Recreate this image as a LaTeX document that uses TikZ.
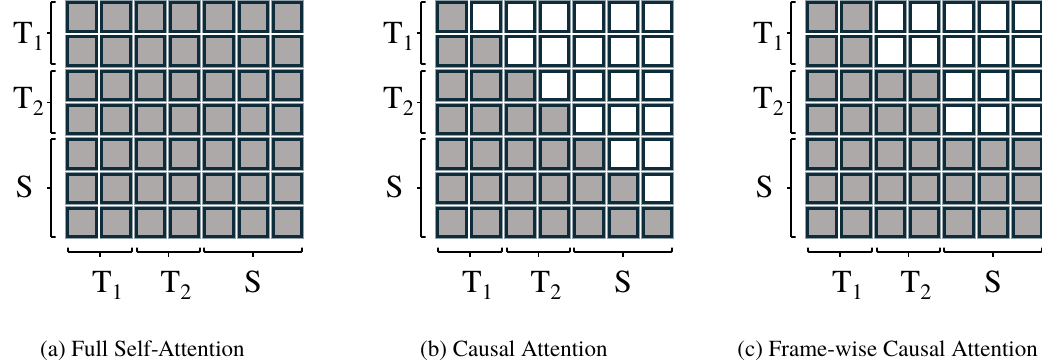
\documentclass[tikz,border=0pt]{standalone}
\usepackage{fontspec}
\setmainfont{TeX Gyre Termes}
\definecolor{cellgray}{RGB}{173,169,169}
\definecolor{celledge}{RGB}{14,44,58}
\definecolor{cellhalo}{RGB}{150,162,170}
\tikzset{
  cell/.style={draw=celledge, line width=3pt, minimum size=28.5pt, inner sep=0pt, outer sep=0pt,
               preaction={draw=cellhalo, line width=4.6pt}},
  bracket/.style={draw=black, line width=1.8pt, rounded corners=1pt},
  axislabel/.style={font=\rmfamily\fontsize{32}{36}\selectfont, inner sep=0pt},
  caption/.style={font=\rmfamily\fontsize{23}{27}\selectfont, inner sep=0pt},
}
% token label with a lowered index
\newcommand\tok[1]{T\raisebox{-7pt}{\fontsize{22}{22}\selectfont #1}}
% vertical bracket: x, top, bottom, tip y
\newcommand\sidebrace[4]{%
  \draw[bracket] (#1+4.5,#2) -- (#1,#2) -- (#1,#3) -- (#1+4.5,#3);
  \draw[bracket] (#1,#4) -- (#1-4.5,#4);}
% horizontal bracket: left, right, y, tip x
\newcommand\footbrace[4]{%
  \draw[bracket] (#1,#3-4.5) -- (#1,#3) -- (#2,#3) -- (#2,#3-4.5);
  \draw[bracket] (#4,#3) -- (#4,#3+4.5);}
\begin{document}
\begin{tikzpicture}[x=1pt, y=-1pt]
\useasboundingbox (0,0) rectangle (1042,364);

% attention masks: per row, number of visible columns in each of the three grids
\foreach \r/\na/\nb/\nc in {0/7/1/2, 1/7/2/2, 2/7/3/4, 3/7/4/4, 4/7/5/7, 5/7/6/7, 6/7/7/7}{
  \foreach \g/\gx/\n in {a/66/\na, b/436/\nb, c/806/\nc}{
    \foreach \c in {0,...,6}{
      \ifnum\c<\n \def\cellfill{cellgray}\else\def\cellfill{white}\fi
      \node[cell, fill=\cellfill] (\g-\r-\c) at ({\gx+15.75+34.3*\c},{16.75+34.3*\r}) {};
    }
  }
}

% row and column groups
\foreach \g/\gx in {a/66, b/436, c/806}{
  \sidebrace{\gx-15}{2}{64}{33}
  \sidebrace{\gx-15}{71}{133}{102.5}
  \sidebrace{\gx-15}{139}{237}{188}
  \node[axislabel, anchor=base west] (\g-rowT1) at (\gx-53,43) {\tok{1}};
  \node[axislabel, anchor=base west] (\g-rowT2) at (\gx-53,108) {\tok{2}};
  \node[axislabel, anchor=base] (\g-rowS) at (\gx-41.5,197) {S};

  \footbrace{\gx+2}{\gx+66}{252}{\gx+34}
  \footbrace{\gx+71}{\gx+134}{252}{\gx+102.5}
  \footbrace{\gx+138}{\gx+236}{252}{\gx+187}
  \node[axislabel, anchor=base west] (\g-colT1) at (\gx+26,292) {\tok{1}};
  \node[axislabel, anchor=base west] (\g-colT2) at (\gx+94.5,292) {\tok{2}};
  \node[axislabel, anchor=base] (\g-colS) at (\gx+187,292) {S};
}

% captions
\node[caption, anchor=base west] (capa) at (40,356) {(a) Full Self-Attention};
\node[caption, anchor=base west] (capb) at (420,356) {(b) Causal Attention};
\node[caption, anchor=base east] (capc) at (1038,356) {(c) Frame-wise Causal Attention};
\end{tikzpicture}
\end{document}
